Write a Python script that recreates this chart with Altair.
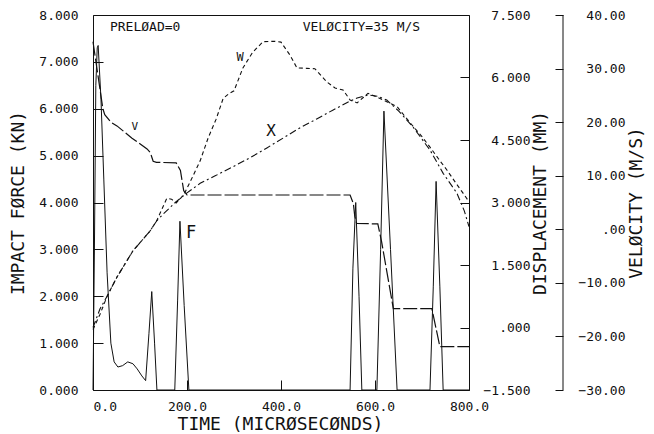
import altair as alt
import pandas as pd

FONT = "DejaVu Sans Mono"
INK = "#111111"

# ---- Impact force F (kN), left axis ----
t_force = [0, 3, 6, 9, 11, 17, 23, 30, 38, 45, 53, 63, 74, 85, 94, 104, 112, 119, 125, 131, 136,
           174, 180, 185, 194, 204, 547, 553, 559, 566, 572, 604, 612, 619, 633, 647,
           717, 724, 730, 738, 745, 800]
force_kn = [0.0, 3.0, 6.5, 7.3, 7.35, 6.2, 4.5, 2.5, 1.0, 0.6, 0.49, 0.52, 0.6, 0.56, 0.45, 0.3, 0.2, 1.2, 2.1, 1.0, 0.0,
            0.0, 1.9, 3.6, 1.8, 0.0, 0.0, 2.6, 4.0, 2.0, 0.0, 0.0, 3.0, 5.95, 3.0, 0.0,
            0.0, 2.2, 4.45, 2.2, 0.0, 0.0]

# ---- Velocity V (m/s), second right axis ----
t_vel = [0, 21, 25, 38, 51, 83, 115, 122, 128, 135, 177, 186, 193, 200, 547, 554, 557, 561,
         606, 614, 639, 721, 738, 800]
vel_ms = [35.0, 22.5, 21.4, 20.0, 19.3, 17.0, 15.0, 14.3, 12.7, 12.5, 12.4, 11.0, 7.2, 6.4, 6.4, 4.8, 2.4, 1.1,
          1.0, -2.3, -14.8, -14.8, -21.9, -21.9]

# ---- Displacement W (mm), first right axis ----
t_w = [0, 15, 30, 51, 85, 121, 135, 147, 157, 167, 177, 188, 196, 212, 228, 245, 262, 277, 290, 300,
       319, 340, 362, 385, 400, 419, 434, 455, 472, 498, 515, 532, 547, 562, 575, 585, 604, 625, 647,
       675, 700, 717, 735, 753, 770, 787, 800]
disp_w = [-0.05, 0.32, 0.75, 1.21, 1.84, 2.31, 2.55, 2.85, 3.10, 3.08, 2.99, 3.12, 3.25, 3.62, 4.0, 4.55, 5.0, 5.5, 5.62, 5.68,
          6.23, 6.61, 6.86, 6.87, 6.85, 6.54, 6.23, 6.22, 6.21, 5.89, 5.75, 5.70, 5.46, 5.39, 5.52, 5.62, 5.53, 5.42, 5.30,
          4.91, 4.58, 4.33, 4.05, 3.78, 3.50, 3.23, 3.02]

# ---- Displacement X (mm), first right axis ----
t_x = [0, 15, 30, 51, 85, 121, 135, 149, 175, 200, 228, 260, 298, 335, 370, 405, 440, 475, 511, 543,
       562, 585, 605, 625, 650, 681, 700, 717, 745, 774, 790, 800]
disp_x = [0.0, 0.45, 0.75, 1.21, 1.84, 2.31, 2.55, 2.72, 3.0, 3.23, 3.46, 3.64, 3.86, 4.08, 4.31, 4.55, 4.79, 5.0, 5.22, 5.41,
          5.51, 5.58, 5.55, 5.46, 5.20, 4.81, 4.52, 4.26, 3.70, 3.23, 2.80, 2.42]

# ---- Curve labels and notes (placed on the force scale) ----
label_text = ["V", "W", "X", "F"]
label_t = [89, 313, 379, 209]
label_force = [5.61, 7.1, 5.53, 3.35]
label_size = [11, 12, 16, 17]

note_text = ["PRELØAD=0", "VELØCITY=35 M/S"]
note_t = [36, 696]
note_force = [7.74, 7.74]
note_align = ["left", "right"]

# ---- Axis ticks ----
time_ticks = [0, 200, 400, 600, 800]
force_ticks = [0, 1, 2, 3, 4, 5, 6, 7, 8]
disp_ticks = [-1.5, 0, 1.5, 3.0, 4.5, 6.0, 7.5]
vel_ticks = [-30, -20, -10, 0, 10, 20, 30, 40]

force_df = pd.DataFrame({"t": t_force, "force": force_kn})
vel_df = pd.DataFrame({"t": t_vel, "vel": vel_ms})
w_df = pd.DataFrame({"t": t_w, "disp": disp_w})
x_df = pd.DataFrame({"t": t_x, "disp": disp_x})
lab_df = pd.DataFrame({"t": label_t, "force": label_force, "label": label_text, "size": label_size})
note_df = pd.DataFrame({"t": note_t, "force": note_force, "label": note_text, "align": note_align})

x_scale = alt.Scale(domain=[0, 800], nice=False, zero=False)
force_scale = alt.Scale(domain=[0, 8], nice=False, zero=False)
disp_scale = alt.Scale(domain=[-1.5, 7.5], nice=False, zero=False)
vel_scale = alt.Scale(domain=[-30, 40], nice=False, zero=False)

common = dict(domain=False, grid=False, labelOverlap=False, titleBaseline="middle", titleAlign="center")

# inward ticks: axis line moved inside by a negative offset, ticks reach back to the frame
x_axis = alt.Axis(values=time_ticks, format=".1f", orient="bottom", offset=-10, tickSize=10,
                  labelPadding=10, labelFlush=False,
                  labelAlign={"condition": {"test": "datum.value == 0", "value": "left"}, "value": "center"},
                  title="TIME (MICRØSECØNDS)", titleX=187, titleY=44, titleAngle=0, **common)

force_axis = alt.Axis(values=force_ticks, format=".3f", orient="left", offset=-10, tickSize=10,
                      labelPadding=15,
                      title="IMPACT FØRCE (KN)", titleX=-85, titleY=187.5, titleAngle=270, **common)

disp_axis = alt.Axis(values=disp_ticks, orient="right", offset=-9, tickSize=9,
                     labelPadding=61, labelAlign="right",
                     labelExpr="datum.value == 0 ? '.000' : format(datum.value, '.3f')",
                     title="DISPLACEMENT (MM)", titleX=80, titleY=187.5, titleAngle=270, **common)

vel_axis = alt.Axis(values=vel_ticks, orient="right", offset=86, tickSize=8,
                    labelPadding=62, labelAlign="right",
                    labelExpr="datum.value == 0 ? '.00' : format(datum.value, '.2f')",
                    title="VELØCITY (M/S)", titleX=81, titleY=187.5, titleAngle=270, **common)

X = alt.X("t:Q", scale=x_scale, axis=x_axis)
Y_F = alt.Y("force:Q", scale=force_scale, axis=force_axis)
Y_D = alt.Y("disp:Q", scale=disp_scale, axis=disp_axis)
Y_V = alt.Y("vel:Q", scale=vel_scale, axis=vel_axis)

# Force layer
f_line = alt.Chart(force_df).mark_line(color=INK, strokeWidth=1).encode(x=X, y=Y_F)
f_labels = alt.Chart(lab_df).mark_text(font=FONT, color=INK, align="center", baseline="middle").encode(
    x=X, y=Y_F, text="label:N", size=alt.Size("size:Q", scale=None, legend=None),
)
note_left = alt.Chart(note_df).transform_filter(alt.datum.align == "left").mark_text(
    font=FONT, fontSize=13, color=INK, align="left", baseline="middle").encode(x=X, y=Y_F, text="label:N")
note_right = alt.Chart(note_df).transform_filter(alt.datum.align == "right").mark_text(
    font=FONT, fontSize=13, color=INK, align="right", baseline="middle").encode(x=X, y=Y_F, text="label:N")
force_layer = alt.layer(f_line, f_labels, note_left, note_right)

# Displacement layer
w_line = alt.Chart(w_df).mark_line(color=INK, strokeWidth=1.1, strokeDash=[4, 3]).encode(x=X, y=Y_D)
x_line = alt.Chart(x_df).mark_line(color=INK, strokeWidth=1.1, strokeDash=[7, 3, 2, 3]).encode(x=X, y=Y_D)
disp_layer = alt.layer(w_line, x_line)

# Velocity layer (its axis line drawn as a rule at the axis position)
v_line = alt.Chart(vel_df).mark_line(color=INK, strokeWidth=1.2, strokeDash=[14, 3]).encode(x=X, y=Y_V)
vel_axis_line = alt.Chart(alt.Data(values=[{}])).mark_rule(color=INK, strokeWidth=1).encode(
    x=alt.value(470), y=alt.value(0), y2=alt.value(375)
)
vel_layer = alt.layer(v_line, vel_axis_line)

chart = alt.layer(force_layer, disp_layer, vel_layer).resolve_scale(
    y="independent"
).properties(
    width=376, height=375,
    padding={"left": 93, "top": 15, "right": 185, "bottom": 44},
    autosize=alt.AutoSizeParams(type="none"),
    background="white",
).configure_axis(
    labelFont=FONT, labelFontSize=13, labelColor=INK,
    titleFont=FONT, titleFontSize=18, titleFontWeight="normal", titleColor=INK,
    tickColor=INK, tickWidth=1,
).configure_view(stroke=INK, strokeWidth=1)

chart.save("out.html", embed_options={"renderer": "svg", "actions": False})
